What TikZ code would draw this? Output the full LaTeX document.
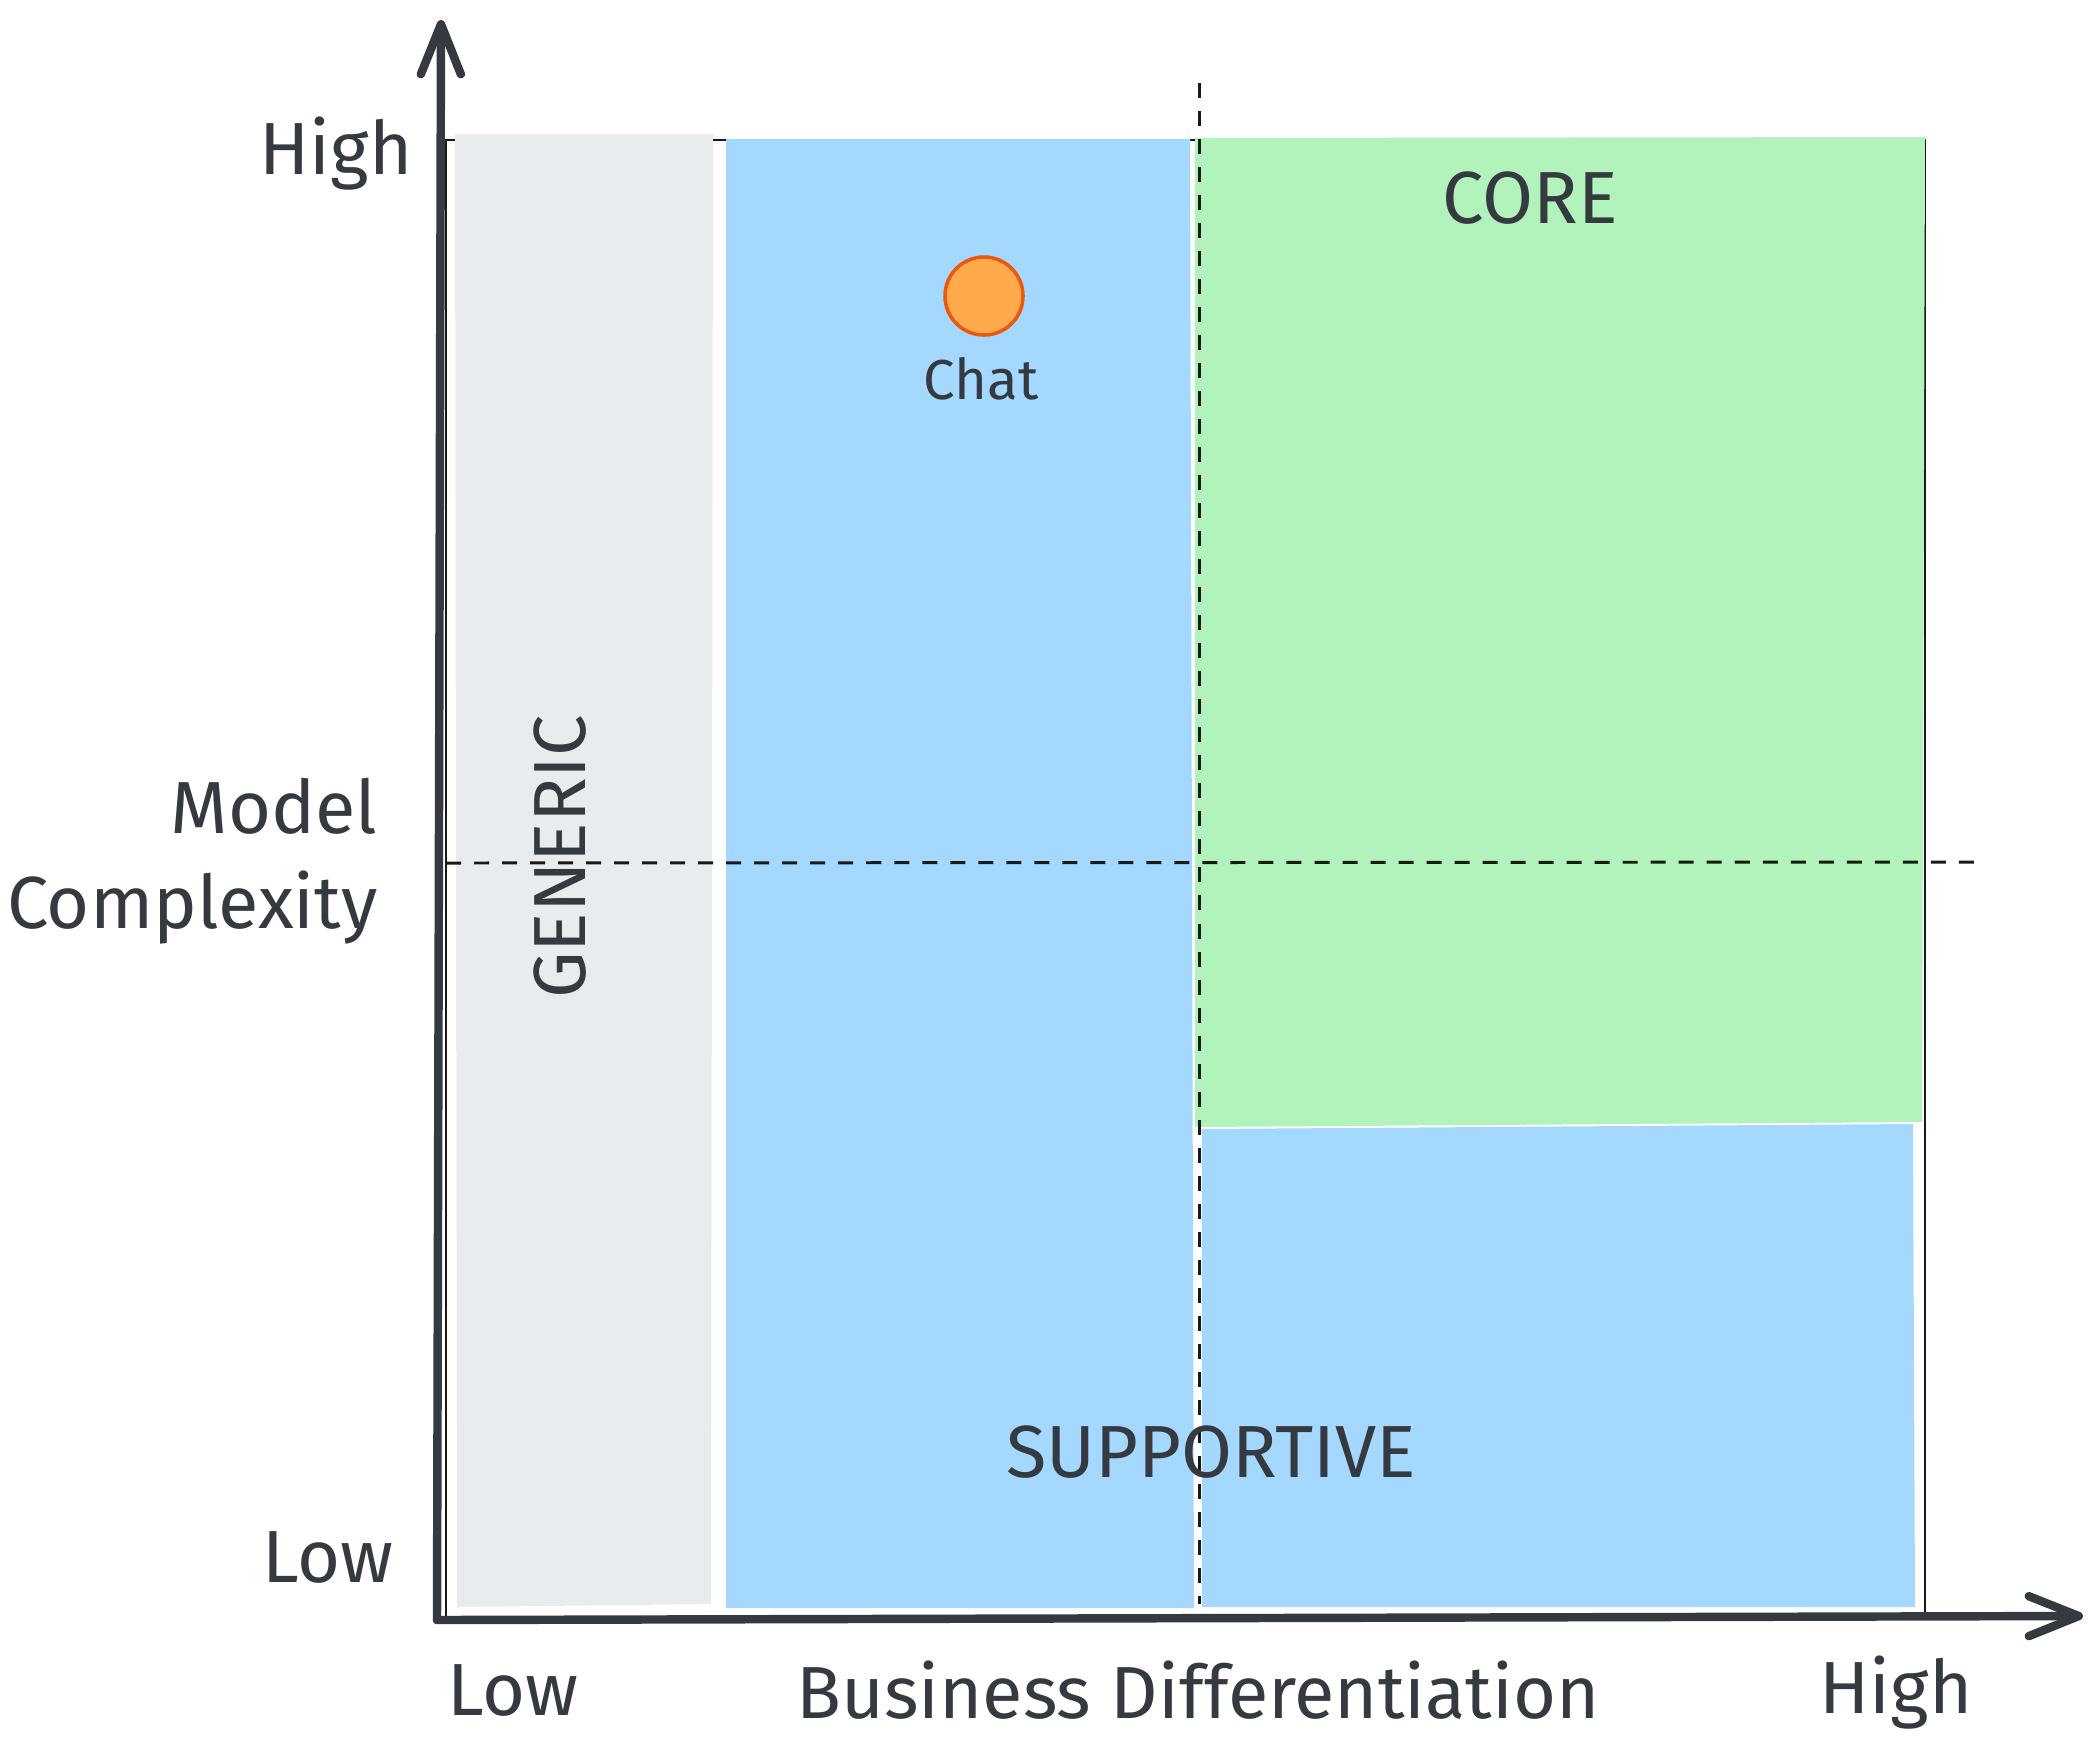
\documentclass[tikz,border=0pt]{standalone}
\usepackage{fontspec}
\setmainfont{Fira Sans}
\usetikzlibrary{arrows.meta}

\definecolor{ink}{HTML}{343A40}
\definecolor{genericfill}{HTML}{E9ECEF}
\definecolor{supportfill}{HTML}{A5D8FF}
\definecolor{corefill}{HTML}{B2F2BB}
\definecolor{dotfill}{HTML}{FFA94D}
\definecolor{dotline}{HTML}{E8590C}

\tikzset{
  axis/.style={line width=2.4pt, ink, line cap=round, line join=round,
    -{Straight Barb[length=0.5cm, width=0.4cm, round]}},
  frame/.style={line width=0.6pt, black!90},
  guide/.style={line width=0.85pt, black!90, dash pattern=on 0.15cm off 0.13cm},
  lbl/.style={font=\fontsize{21}{27}\selectfont, text=ink, inner sep=0pt},
  small lbl/.style={font=\fontsize{16}{20}\selectfont, text=ink, inner sep=0pt},
  dot/.style={circle, fill=dotfill, draw=dotline, line width=1pt, minimum size=0.78cm, inner sep=0pt},
}

\begin{document}
\begin{tikzpicture}[x=0.01cm, y=-0.01cm]
    \useasboundingbox (0,0) rectangle (2099,1756);

    % Frame
    \draw[frame] (446,140) rectangle (1925,1618);

    % Regions
    \fill[genericfill] (455,134) -- (713,134) -- (711,1604) -- (457,1607) -- cycle;
    \fill[supportfill] (726,139) -- (1190,139) -- (1194,1608) -- (726,1608) -- cycle;
    \fill[corefill] (1195,138) -- (1925,137) -- (1922,1122) -- (1195,1127) -- cycle;
    \fill[supportfill] (1202,1129) -- (1913,1124) -- (1915,1607) -- (1202,1607) -- cycle;

    % Dashed guides
    \coordinate (vtop) at (1199,83);
    \coordinate (vbot) at (1199,1604);
    \coordinate (hleft) at (446,863);
    \coordinate (hright) at (1981,862);
    \draw[guide] (vtop) -- (vbot);
    \draw[guide] (hleft) -- (hright);

    % Axes
    \coordinate (origin) at (437,1620);
    \coordinate (ytip) at (441,20);
    \coordinate (xtip) at (2083,1616);
    \draw[axis] (origin) -- (ytip);
    \draw[axis] (origin) -- (xtip);

    % Region names
    \node[lbl] (core) at (1530,198) {CORE};
    \node[lbl] (supportive) at (1211,1452) {SUPPORTIVE};
    \node[lbl, rotate=90] (generic) at (560,857) {GENERIC};

    % Point
    \node[dot] (chat) at (984,296) {};
    \node[small lbl] (chatlbl) at (981,379) {Chat};

    % Axis labels
    \node[lbl, anchor=east] (yhigh) at (413,154) {High};
    \node[lbl] (ylow) at (328,1557) {Low};
    \node[lbl, align=right, anchor=east] (ylabel) at (378,861) {Model\\Complexity};
    \node[lbl] (xlow) at (513,1690) {Low};
    \node[lbl] (xlabel) at (1198,1690) {Business Differentiation};
    \node[lbl] (xhigh) at (1896,1693) {High};
\end{tikzpicture}
\end{document}
